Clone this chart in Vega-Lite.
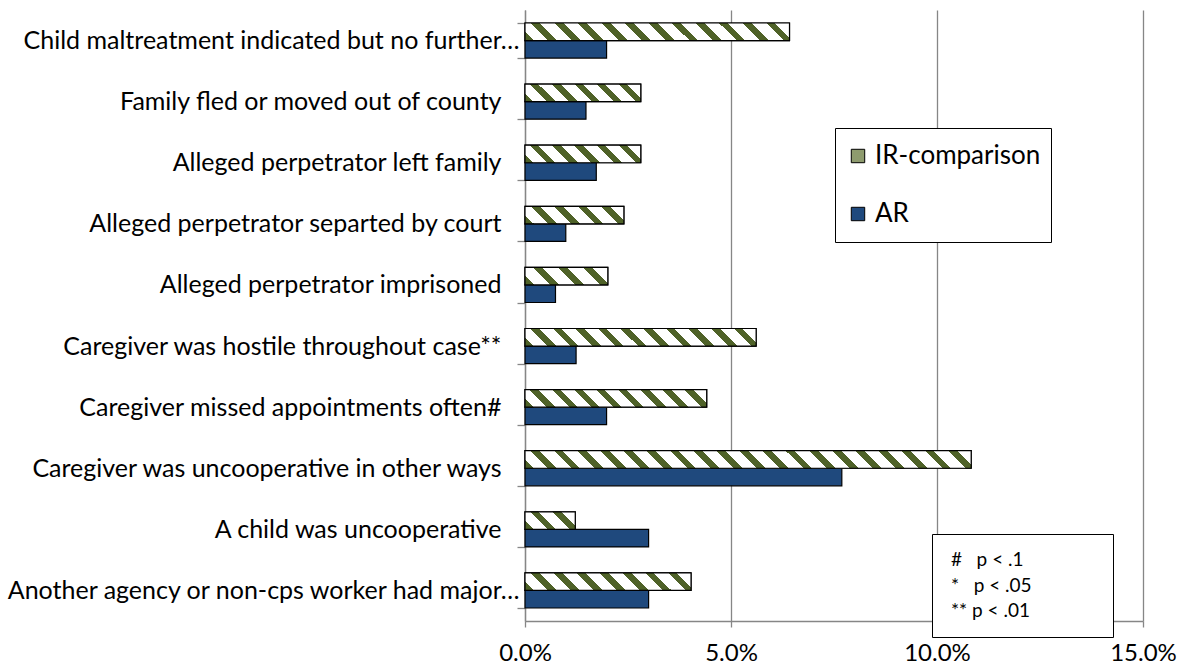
{
 "$schema": "https://vega.github.io/schema/vega-lite/v6.json",
 "width": 618,
 "height": 611,
 "autosize": {"type": "none"},
 "padding": {"left": 525, "top": 10, "right": 39, "bottom": 45},
 "background": "white",
 "config": {"view": {"stroke": null}, "font": "Lato", "axis": {"labelFont": "Lato"}, "legend": {"labelFont": "Lato"}},
 "datasets": {
  "bars": [
   {"cat": "Child maltreatment indicated but no further…", "series": "IR-comparison", "value": 0.0642},
   {"cat": "Child maltreatment indicated but no further…", "series": "AR", "value": 0.0198},
   {"cat": "Family fled or moved out of county", "series": "IR-comparison", "value": 0.0281},
   {"cat": "Family fled or moved out of county", "series": "AR", "value": 0.0148},
   {"cat": "Alleged perpetrator left family", "series": "IR-comparison", "value": 0.0281},
   {"cat": "Alleged perpetrator left family", "series": "AR", "value": 0.0173},
   {"cat": "Alleged perpetrator separted by court", "series": "IR-comparison", "value": 0.0240},
   {"cat": "Alleged perpetrator separted by court", "series": "AR", "value": 0.0099},
   {"cat": "Alleged perpetrator imprisoned", "series": "IR-comparison", "value": 0.0201},
   {"cat": "Alleged perpetrator imprisoned", "series": "AR", "value": 0.0074},
   {"cat": "Caregiver was hostile throughout case**", "series": "IR-comparison", "value": 0.0561},
   {"cat": "Caregiver was hostile throughout case**", "series": "AR", "value": 0.0124},
   {"cat": "Caregiver missed appointments often#", "series": "IR-comparison", "value": 0.0441},
   {"cat": "Caregiver missed appointments often#", "series": "AR", "value": 0.0198},
   {"cat": "Caregiver was uncooperative in other ways", "series": "IR-comparison", "value": 0.1083},
   {"cat": "Caregiver was uncooperative in other ways", "series": "AR", "value": 0.0769},
   {"cat": "A child was uncooperative", "series": "IR-comparison", "value": 0.0122},
   {"cat": "A child was uncooperative", "series": "AR", "value": 0.0300},
   {"cat": "Another agency or non-cps worker had major…", "series": "IR-comparison", "value": 0.0403},
   {"cat": "Another agency or non-cps worker had major…", "series": "AR", "value": 0.0300}
  ],
  "notes": [
   {"note": "#\u00a0\u00a0\u00a0p < .1\u00a0\u00a0\u00a0\u00a0\u00a0\u00a0\u00a0\u00a0\u00a0\u00a0\u00a0\u00a0\u00a0\u00a0\u00a0\u200b"},
   {"note": "*\u00a0\u00a0\u00a0p < .05"},
   {"note": "**\u00a0p < .01"}
  ]
 },
 "layer": [
  {
   "data": {"name": "bars"},
   "mark": {"type": "bar", "stroke": "black", "strokeWidth": 1.2},
   "encoding": {
    "y": {
     "field": "cat", "type": "nominal",
     "sort": ["Child maltreatment indicated but no further…", "Family fled or moved out of county", "Alleged perpetrator left family", "Alleged perpetrator separted by court", "Alleged perpetrator imprisoned", "Caregiver was hostile throughout case**", "Caregiver missed appointments often#", "Caregiver was uncooperative in other ways", "A child was uncooperative", "Another agency or non-cps worker had major…"],
     "scale": {"paddingInner": 0.425, "paddingOuter": 0.2125},
     "axis": {"title": null, "labelFontSize": 25, "labelColor": "black", "labelLimit": 700,
      "labelPadding": {"condition": {"test": "datum.value === 'Child maltreatment indicated but no further…' || datum.value === 'Another agency or non-cps worker had major…'", "value": -2}, "value": 16},
      "tickBand": "extent", "tickSize": 8, "tickColor": "#868686", "tickWidth": 1.3, "domainColor": "#868686", "domainWidth": 1.3, "grid": false}
    },
    "yOffset": {"field": "series", "type": "nominal", "scale": {"domain": ["IR-comparison", "AR"], "paddingInner": 0, "paddingOuter": 0}},
    "x": {
     "field": "value", "type": "quantitative",
     "scale": {"domain": [0, 0.15], "nice": false},
     "axis": {"title": null, "format": ".1%", "values": [0, 0.05, 0.1, 0.15], "labelFontSize": 24, "labelColor": "black", "labelPadding": 14, "labelFlush": false, "tickSize": 6, "tickColor": "#868686", "tickWidth": 1.3, "domainColor": "#868686", "domainWidth": 1.3, "grid": true, "gridColor": "#868686", "gridWidth": 1.3}
    },
    "color": {
     "field": "series", "type": "nominal",
     "scale": {"domain": ["IR-comparison", "AR"], "range": ["#8E9B6E", "#1F497D"]},
     "legend": {
      "title": null, "orient": "none", "legendX": 310, "legendY": 118, "direction": "vertical",
      "strokeColor": "black", "fillColor": "white", "padding": 10,
      "labelFontSize": 26, "labelColor": "black", "labelOffset": 4, "labelLimit": 400,
      "symbolType": "square", "symbolSize": 180, "symbolStrokeColor": "black", "symbolStrokeWidth": 1,
      "clipHeight": 36, "rowPadding": 22
     }
    }
   }
  },
  {
   "data": {"name": "bars"},
   "transform": [{"filter": "datum.series === 'IR-comparison'"}],
   "mark": {"type": "bar", "stroke": "black", "strokeWidth": 1.2},
   "encoding": {
    "y": {
     "field": "cat", "type": "nominal",
     "sort": ["Child maltreatment indicated but no further…", "Family fled or moved out of county", "Alleged perpetrator left family", "Alleged perpetrator separted by court", "Alleged perpetrator imprisoned", "Caregiver was hostile throughout case**", "Caregiver missed appointments often#", "Caregiver was uncooperative in other ways", "A child was uncooperative", "Another agency or non-cps worker had major…"]
    },
    "yOffset": {"field": "series", "type": "nominal", "scale": {"domain": ["IR-comparison", "AR"], "paddingInner": 0, "paddingOuter": 0}},
    "x": {"field": "value", "type": "quantitative"},
    "fill": {
     "condition": [
      {"test": "datum.cat === 'Child maltreatment indicated but no further…'", "value": {"gradient": "linear", "x1": 0, "y1": 1, "x2": 1.06184, "y2": 0.92934, "stops": [
       {"offset": 0, "color": "#4F6228"}, {"offset": 0.03167, "color": "#4F6228"}, {"offset": 0.03167, "color": "#FFFFFF"}, {"offset": 0.08333, "color": "#FFFFFF"},
       {"offset": 0.08333, "color": "#4F6228"}, {"offset": 0.115, "color": "#4F6228"}, {"offset": 0.115, "color": "#FFFFFF"}, {"offset": 0.16667, "color": "#FFFFFF"},
       {"offset": 0.16667, "color": "#4F6228"}, {"offset": 0.19833, "color": "#4F6228"}, {"offset": 0.19833, "color": "#FFFFFF"}, {"offset": 0.25, "color": "#FFFFFF"},
       {"offset": 0.25, "color": "#4F6228"}, {"offset": 0.28167, "color": "#4F6228"}, {"offset": 0.28167, "color": "#FFFFFF"}, {"offset": 0.33333, "color": "#FFFFFF"},
       {"offset": 0.33333, "color": "#4F6228"}, {"offset": 0.365, "color": "#4F6228"}, {"offset": 0.365, "color": "#FFFFFF"}, {"offset": 0.41667, "color": "#FFFFFF"},
       {"offset": 0.41667, "color": "#4F6228"}, {"offset": 0.44833, "color": "#4F6228"}, {"offset": 0.44833, "color": "#FFFFFF"}, {"offset": 0.5, "color": "#FFFFFF"},
       {"offset": 0.5, "color": "#4F6228"}, {"offset": 0.53167, "color": "#4F6228"}, {"offset": 0.53167, "color": "#FFFFFF"}, {"offset": 0.58333, "color": "#FFFFFF"},
       {"offset": 0.58333, "color": "#4F6228"}, {"offset": 0.615, "color": "#4F6228"}, {"offset": 0.615, "color": "#FFFFFF"}, {"offset": 0.66667, "color": "#FFFFFF"},
       {"offset": 0.66667, "color": "#4F6228"}, {"offset": 0.69833, "color": "#4F6228"}, {"offset": 0.69833, "color": "#FFFFFF"}, {"offset": 0.75, "color": "#FFFFFF"},
       {"offset": 0.75, "color": "#4F6228"}, {"offset": 0.78167, "color": "#4F6228"}, {"offset": 0.78167, "color": "#FFFFFF"}, {"offset": 0.83333, "color": "#FFFFFF"},
       {"offset": 0.83333, "color": "#4F6228"}, {"offset": 0.865, "color": "#4F6228"}, {"offset": 0.865, "color": "#FFFFFF"}, {"offset": 0.91667, "color": "#FFFFFF"},
       {"offset": 0.91667, "color": "#4F6228"}, {"offset": 0.94833, "color": "#4F6228"}, {"offset": 0.94833, "color": "#FFFFFF"}, {"offset": 1, "color": "#FFFFFF"}]}},
      {"test": "datum.cat === 'Family fled or moved out of county' || datum.cat === 'Alleged perpetrator left family'", "value": {"gradient": "linear", "x1": 0, "y1": 1, "x2": 1.12598, "y2": 0.82886, "stops": [
       {"offset": 0, "color": "#4F6228"}, {"offset": 0.06333, "color": "#4F6228"}, {"offset": 0.06333, "color": "#FFFFFF"}, {"offset": 0.16667, "color": "#FFFFFF"},
       {"offset": 0.16667, "color": "#4F6228"}, {"offset": 0.23, "color": "#4F6228"}, {"offset": 0.23, "color": "#FFFFFF"}, {"offset": 0.33333, "color": "#FFFFFF"},
       {"offset": 0.33333, "color": "#4F6228"}, {"offset": 0.39667, "color": "#4F6228"}, {"offset": 0.39667, "color": "#FFFFFF"}, {"offset": 0.5, "color": "#FFFFFF"},
       {"offset": 0.5, "color": "#4F6228"}, {"offset": 0.56333, "color": "#4F6228"}, {"offset": 0.56333, "color": "#FFFFFF"}, {"offset": 0.66667, "color": "#FFFFFF"},
       {"offset": 0.66667, "color": "#4F6228"}, {"offset": 0.73, "color": "#4F6228"}, {"offset": 0.73, "color": "#FFFFFF"}, {"offset": 0.83333, "color": "#FFFFFF"},
       {"offset": 0.83333, "color": "#4F6228"}, {"offset": 0.89667, "color": "#4F6228"}, {"offset": 0.89667, "color": "#FFFFFF"}, {"offset": 1, "color": "#FFFFFF"}]}},
      {"test": "datum.cat === 'Alleged perpetrator separted by court'", "value": {"gradient": "linear", "x1": 0, "y1": 1, "x2": 1.1418, "y2": 0.79681, "stops": [
       {"offset": 0, "color": "#4F6228"}, {"offset": 0.076, "color": "#4F6228"}, {"offset": 0.076, "color": "#FFFFFF"}, {"offset": 0.2, "color": "#FFFFFF"},
       {"offset": 0.2, "color": "#4F6228"}, {"offset": 0.276, "color": "#4F6228"}, {"offset": 0.276, "color": "#FFFFFF"}, {"offset": 0.4, "color": "#FFFFFF"},
       {"offset": 0.4, "color": "#4F6228"}, {"offset": 0.476, "color": "#4F6228"}, {"offset": 0.476, "color": "#FFFFFF"}, {"offset": 0.6, "color": "#FFFFFF"},
       {"offset": 0.6, "color": "#4F6228"}, {"offset": 0.676, "color": "#4F6228"}, {"offset": 0.676, "color": "#FFFFFF"}, {"offset": 0.8, "color": "#FFFFFF"},
       {"offset": 0.8, "color": "#4F6228"}, {"offset": 0.876, "color": "#4F6228"}, {"offset": 0.876, "color": "#FFFFFF"}, {"offset": 1, "color": "#FFFFFF"}]}},
      {"test": "datum.cat === 'Alleged perpetrator imprisoned'", "value": {"gradient": "linear", "x1": 0, "y1": 1, "x2": 1.16014, "y2": 0.7534, "stops": [
       {"offset": 0, "color": "#4F6228"}, {"offset": 0.095, "color": "#4F6228"}, {"offset": 0.095, "color": "#FFFFFF"}, {"offset": 0.25, "color": "#FFFFFF"},
       {"offset": 0.25, "color": "#4F6228"}, {"offset": 0.345, "color": "#4F6228"}, {"offset": 0.345, "color": "#FFFFFF"}, {"offset": 0.5, "color": "#FFFFFF"},
       {"offset": 0.5, "color": "#4F6228"}, {"offset": 0.595, "color": "#4F6228"}, {"offset": 0.595, "color": "#FFFFFF"}, {"offset": 0.75, "color": "#FFFFFF"},
       {"offset": 0.75, "color": "#4F6228"}, {"offset": 0.845, "color": "#4F6228"}, {"offset": 0.845, "color": "#FFFFFF"}, {"offset": 1, "color": "#FFFFFF"}]}},
      {"test": "datum.cat === 'Caregiver was hostile throughout case**'", "value": {"gradient": "linear", "x1": 0, "y1": 1, "x2": 1.06995, "y2": 0.91851, "stops": [
       {"offset": 0, "color": "#4F6228"}, {"offset": 0.03455, "color": "#4F6228"}, {"offset": 0.03455, "color": "#FFFFFF"}, {"offset": 0.09091, "color": "#FFFFFF"},
       {"offset": 0.09091, "color": "#4F6228"}, {"offset": 0.12545, "color": "#4F6228"}, {"offset": 0.12545, "color": "#FFFFFF"}, {"offset": 0.18182, "color": "#FFFFFF"},
       {"offset": 0.18182, "color": "#4F6228"}, {"offset": 0.21636, "color": "#4F6228"}, {"offset": 0.21636, "color": "#FFFFFF"}, {"offset": 0.27273, "color": "#FFFFFF"},
       {"offset": 0.27273, "color": "#4F6228"}, {"offset": 0.30727, "color": "#4F6228"}, {"offset": 0.30727, "color": "#FFFFFF"}, {"offset": 0.36364, "color": "#FFFFFF"},
       {"offset": 0.36364, "color": "#4F6228"}, {"offset": 0.39818, "color": "#4F6228"}, {"offset": 0.39818, "color": "#FFFFFF"}, {"offset": 0.45455, "color": "#FFFFFF"},
       {"offset": 0.45455, "color": "#4F6228"}, {"offset": 0.48909, "color": "#4F6228"}, {"offset": 0.48909, "color": "#FFFFFF"}, {"offset": 0.54545, "color": "#FFFFFF"},
       {"offset": 0.54545, "color": "#4F6228"}, {"offset": 0.58, "color": "#4F6228"}, {"offset": 0.58, "color": "#FFFFFF"}, {"offset": 0.63636, "color": "#FFFFFF"},
       {"offset": 0.63636, "color": "#4F6228"}, {"offset": 0.67091, "color": "#4F6228"}, {"offset": 0.67091, "color": "#FFFFFF"}, {"offset": 0.72727, "color": "#FFFFFF"},
       {"offset": 0.72727, "color": "#4F6228"}, {"offset": 0.76182, "color": "#4F6228"}, {"offset": 0.76182, "color": "#FFFFFF"}, {"offset": 0.81818, "color": "#FFFFFF"},
       {"offset": 0.81818, "color": "#4F6228"}, {"offset": 0.85273, "color": "#4F6228"}, {"offset": 0.85273, "color": "#FFFFFF"}, {"offset": 0.90909, "color": "#FFFFFF"},
       {"offset": 0.90909, "color": "#4F6228"}, {"offset": 0.94364, "color": "#4F6228"}, {"offset": 0.94364, "color": "#FFFFFF"}, {"offset": 1, "color": "#FFFFFF"}]}},
      {"test": "datum.cat === 'Caregiver missed appointments often#'", "value": {"gradient": "linear", "x1": 0, "y1": 1, "x2": 1.08667, "y2": 0.89474, "stops": [
       {"offset": 0, "color": "#4F6228"}, {"offset": 0.04222, "color": "#4F6228"}, {"offset": 0.04222, "color": "#FFFFFF"}, {"offset": 0.11111, "color": "#FFFFFF"},
       {"offset": 0.11111, "color": "#4F6228"}, {"offset": 0.15333, "color": "#4F6228"}, {"offset": 0.15333, "color": "#FFFFFF"}, {"offset": 0.22222, "color": "#FFFFFF"},
       {"offset": 0.22222, "color": "#4F6228"}, {"offset": 0.26444, "color": "#4F6228"}, {"offset": 0.26444, "color": "#FFFFFF"}, {"offset": 0.33333, "color": "#FFFFFF"},
       {"offset": 0.33333, "color": "#4F6228"}, {"offset": 0.37556, "color": "#4F6228"}, {"offset": 0.37556, "color": "#FFFFFF"}, {"offset": 0.44444, "color": "#FFFFFF"},
       {"offset": 0.44444, "color": "#4F6228"}, {"offset": 0.48667, "color": "#4F6228"}, {"offset": 0.48667, "color": "#FFFFFF"}, {"offset": 0.55556, "color": "#FFFFFF"},
       {"offset": 0.55556, "color": "#4F6228"}, {"offset": 0.59778, "color": "#4F6228"}, {"offset": 0.59778, "color": "#FFFFFF"}, {"offset": 0.66667, "color": "#FFFFFF"},
       {"offset": 0.66667, "color": "#4F6228"}, {"offset": 0.70889, "color": "#4F6228"}, {"offset": 0.70889, "color": "#FFFFFF"}, {"offset": 0.77778, "color": "#FFFFFF"},
       {"offset": 0.77778, "color": "#4F6228"}, {"offset": 0.82, "color": "#4F6228"}, {"offset": 0.82, "color": "#FFFFFF"}, {"offset": 0.88889, "color": "#FFFFFF"},
       {"offset": 0.88889, "color": "#4F6228"}, {"offset": 0.93111, "color": "#4F6228"}, {"offset": 0.93111, "color": "#FFFFFF"}, {"offset": 1, "color": "#FFFFFF"}]}},
      {"test": "datum.cat === 'Caregiver was uncooperative in other ways'", "value": {"gradient": "linear", "x1": 0, "y1": 1, "x2": 1.03783, "y2": 0.95907, "stops": [
       {"offset": 0, "color": "#4F6228"}, {"offset": 0.019, "color": "#4F6228"}, {"offset": 0.019, "color": "#FFFFFF"}, {"offset": 0.05, "color": "#FFFFFF"},
       {"offset": 0.05, "color": "#4F6228"}, {"offset": 0.069, "color": "#4F6228"}, {"offset": 0.069, "color": "#FFFFFF"}, {"offset": 0.1, "color": "#FFFFFF"},
       {"offset": 0.1, "color": "#4F6228"}, {"offset": 0.119, "color": "#4F6228"}, {"offset": 0.119, "color": "#FFFFFF"}, {"offset": 0.15, "color": "#FFFFFF"},
       {"offset": 0.15, "color": "#4F6228"}, {"offset": 0.169, "color": "#4F6228"}, {"offset": 0.169, "color": "#FFFFFF"}, {"offset": 0.2, "color": "#FFFFFF"},
       {"offset": 0.2, "color": "#4F6228"}, {"offset": 0.219, "color": "#4F6228"}, {"offset": 0.219, "color": "#FFFFFF"}, {"offset": 0.25, "color": "#FFFFFF"},
       {"offset": 0.25, "color": "#4F6228"}, {"offset": 0.269, "color": "#4F6228"}, {"offset": 0.269, "color": "#FFFFFF"}, {"offset": 0.3, "color": "#FFFFFF"},
       {"offset": 0.3, "color": "#4F6228"}, {"offset": 0.319, "color": "#4F6228"}, {"offset": 0.319, "color": "#FFFFFF"}, {"offset": 0.35, "color": "#FFFFFF"},
       {"offset": 0.35, "color": "#4F6228"}, {"offset": 0.369, "color": "#4F6228"}, {"offset": 0.369, "color": "#FFFFFF"}, {"offset": 0.4, "color": "#FFFFFF"},
       {"offset": 0.4, "color": "#4F6228"}, {"offset": 0.419, "color": "#4F6228"}, {"offset": 0.419, "color": "#FFFFFF"}, {"offset": 0.45, "color": "#FFFFFF"},
       {"offset": 0.45, "color": "#4F6228"}, {"offset": 0.469, "color": "#4F6228"}, {"offset": 0.469, "color": "#FFFFFF"}, {"offset": 0.5, "color": "#FFFFFF"},
       {"offset": 0.5, "color": "#4F6228"}, {"offset": 0.519, "color": "#4F6228"}, {"offset": 0.519, "color": "#FFFFFF"}, {"offset": 0.55, "color": "#FFFFFF"},
       {"offset": 0.55, "color": "#4F6228"}, {"offset": 0.569, "color": "#4F6228"}, {"offset": 0.569, "color": "#FFFFFF"}, {"offset": 0.6, "color": "#FFFFFF"},
       {"offset": 0.6, "color": "#4F6228"}, {"offset": 0.619, "color": "#4F6228"}, {"offset": 0.619, "color": "#FFFFFF"}, {"offset": 0.65, "color": "#FFFFFF"},
       {"offset": 0.65, "color": "#4F6228"}, {"offset": 0.669, "color": "#4F6228"}, {"offset": 0.669, "color": "#FFFFFF"}, {"offset": 0.7, "color": "#FFFFFF"},
       {"offset": 0.7, "color": "#4F6228"}, {"offset": 0.719, "color": "#4F6228"}, {"offset": 0.719, "color": "#FFFFFF"}, {"offset": 0.75, "color": "#FFFFFF"},
       {"offset": 0.75, "color": "#4F6228"}, {"offset": 0.769, "color": "#4F6228"}, {"offset": 0.769, "color": "#FFFFFF"}, {"offset": 0.8, "color": "#FFFFFF"},
       {"offset": 0.8, "color": "#4F6228"}, {"offset": 0.819, "color": "#4F6228"}, {"offset": 0.819, "color": "#FFFFFF"}, {"offset": 0.85, "color": "#FFFFFF"},
       {"offset": 0.85, "color": "#4F6228"}, {"offset": 0.869, "color": "#4F6228"}, {"offset": 0.869, "color": "#FFFFFF"}, {"offset": 0.9, "color": "#FFFFFF"},
       {"offset": 0.9, "color": "#4F6228"}, {"offset": 0.919, "color": "#4F6228"}, {"offset": 0.919, "color": "#FFFFFF"}, {"offset": 0.95, "color": "#FFFFFF"},
       {"offset": 0.95, "color": "#4F6228"}, {"offset": 0.969, "color": "#4F6228"}, {"offset": 0.969, "color": "#FFFFFF"}, {"offset": 1, "color": "#FFFFFF"}]}},
      {"test": "datum.cat === 'A child was uncooperative'", "value": {"gradient": "linear", "x1": 0, "y1": 1, "x2": 1.20266, "y2": 0.57919, "stops": [
       {"offset": 0, "color": "#4F6228"}, {"offset": 0.12667, "color": "#4F6228"}, {"offset": 0.12667, "color": "#FFFFFF"}, {"offset": 0.33333, "color": "#FFFFFF"},
       {"offset": 0.33333, "color": "#4F6228"}, {"offset": 0.46, "color": "#4F6228"}, {"offset": 0.46, "color": "#FFFFFF"}, {"offset": 0.66667, "color": "#FFFFFF"},
       {"offset": 0.66667, "color": "#4F6228"}, {"offset": 0.79333, "color": "#4F6228"}, {"offset": 0.79333, "color": "#FFFFFF"}, {"offset": 1, "color": "#FFFFFF"}]}},
      {"test": "datum.cat === 'Another agency or non-cps worker had major…'", "value": {"gradient": "linear", "x1": 0, "y1": 1, "x2": 1.09373, "y2": 0.88404, "stops": [
       {"offset": 0, "color": "#4F6228"}, {"offset": 0.0475, "color": "#4F6228"}, {"offset": 0.0475, "color": "#FFFFFF"}, {"offset": 0.125, "color": "#FFFFFF"},
       {"offset": 0.125, "color": "#4F6228"}, {"offset": 0.1725, "color": "#4F6228"}, {"offset": 0.1725, "color": "#FFFFFF"}, {"offset": 0.25, "color": "#FFFFFF"},
       {"offset": 0.25, "color": "#4F6228"}, {"offset": 0.2975, "color": "#4F6228"}, {"offset": 0.2975, "color": "#FFFFFF"}, {"offset": 0.375, "color": "#FFFFFF"},
       {"offset": 0.375, "color": "#4F6228"}, {"offset": 0.4225, "color": "#4F6228"}, {"offset": 0.4225, "color": "#FFFFFF"}, {"offset": 0.5, "color": "#FFFFFF"},
       {"offset": 0.5, "color": "#4F6228"}, {"offset": 0.5475, "color": "#4F6228"}, {"offset": 0.5475, "color": "#FFFFFF"}, {"offset": 0.625, "color": "#FFFFFF"},
       {"offset": 0.625, "color": "#4F6228"}, {"offset": 0.6725, "color": "#4F6228"}, {"offset": 0.6725, "color": "#FFFFFF"}, {"offset": 0.75, "color": "#FFFFFF"},
       {"offset": 0.75, "color": "#4F6228"}, {"offset": 0.7975, "color": "#4F6228"}, {"offset": 0.7975, "color": "#FFFFFF"}, {"offset": 0.875, "color": "#FFFFFF"},
       {"offset": 0.875, "color": "#4F6228"}, {"offset": 0.9225, "color": "#4F6228"}, {"offset": 0.9225, "color": "#FFFFFF"}, {"offset": 1, "color": "#FFFFFF"}]}}
     ],
     "value": "#FFFFFF"
    }
   }
  },
  {
   "data": {"name": "notes"},
   "mark": {"type": "point", "opacity": 0},
   "encoding": {
    "shape": {
     "field": "note", "type": "nominal",
     "scale": {"domain": ["#\u00a0\u00a0\u00a0p < .1\u00a0\u00a0\u00a0\u00a0\u00a0\u00a0\u00a0\u00a0\u00a0\u00a0\u00a0\u00a0\u00a0\u00a0\u00a0\u200b", "*\u00a0\u00a0\u00a0p < .05", "**\u00a0p < .01"]},
     "legend": {
      "title": null, "orient": "none", "legendX": 407, "legendY": 524, "direction": "vertical",
      "strokeColor": "black", "fillColor": "white", "padding": 16,
      "labelFontSize": 19, "labelColor": "black", "labelOffset": -16, "labelLimit": 400,
      "symbolOpacity": 0, "symbolSize": 1, "clipHeight": 20, "rowPadding": 5.5
     }
    }
   }
  }
 ]
}
